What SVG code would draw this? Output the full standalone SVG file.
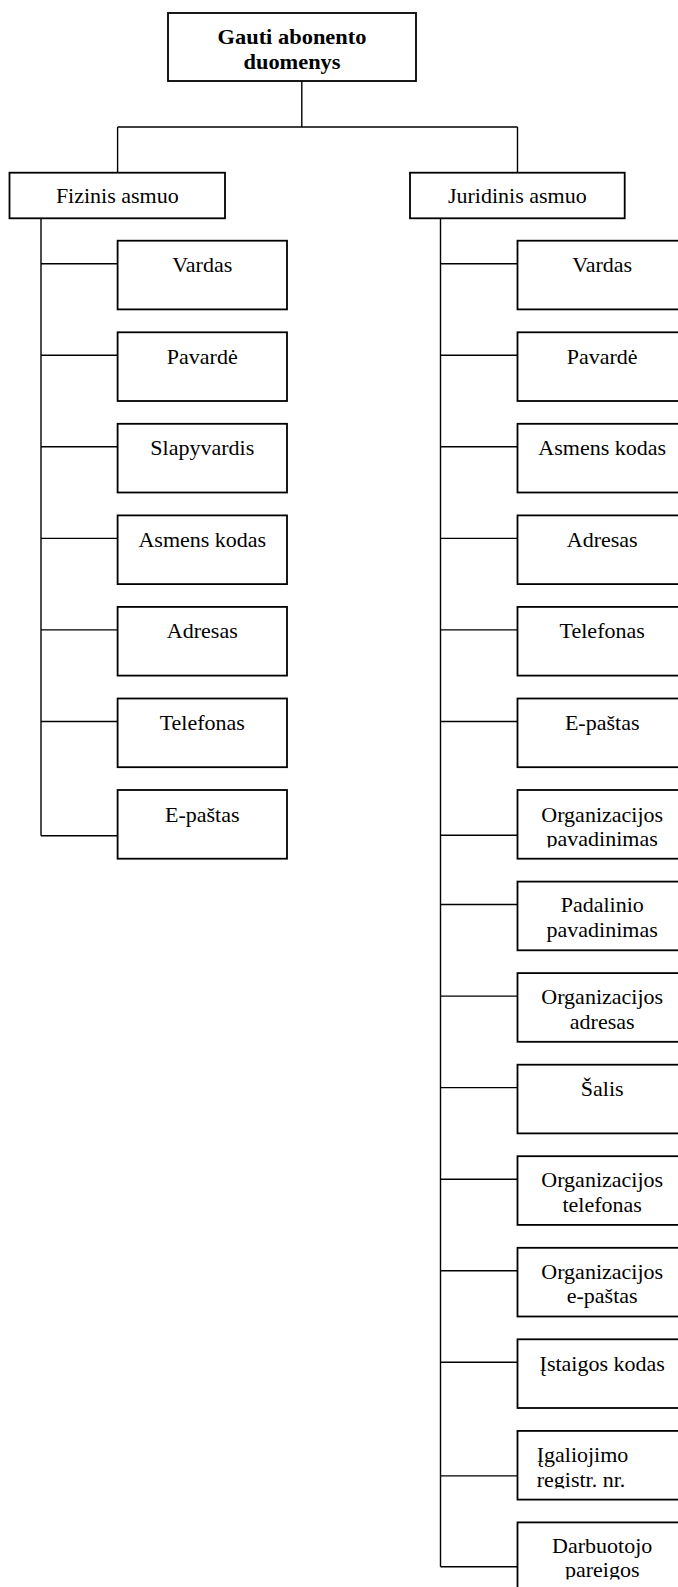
<svg xmlns="http://www.w3.org/2000/svg" width="678" height="1587" viewBox="0 0 678 1587">
  <style>
    .box { fill: #ffffff; stroke: #000000; stroke-width: 1.8; }
    .wire { fill: none; stroke: #000000; stroke-width: 1.4; }
    text { font-family: "Liberation Serif", "Times New Roman", serif; font-size: 22px; fill: #000000; }
    .c { text-anchor: middle; }
    .b { font-weight: bold; }
  </style>
  <defs>
    <clipPath id="clip-r6"><rect x="517.5" y="790" width="170" height="57.5"/></clipPath>
    <clipPath id="clip-r13"><rect x="517.5" y="1430.9" width="170" height="57.5"/></clipPath>
    <clipPath id="clip-r14"><rect x="517.5" y="1522.4" width="170" height="57"/></clipPath>
  </defs>
  <rect width="678" height="1587" fill="#ffffff"/>

  <!-- connectors -->
  <g id="connectors" class="wire">
    <path d="M301.8,81 V127 M117.6,127 H517.5 M117.6,127 V172.7 M517.5,127 V172.7"/>
    <!-- left trunk -->
    <path d="M41,218.3 V835.7"/>
    <path d="M41,263.7 H117.6 M41,355.2 H117.6 M41,446.8 H117.6 M41,538.4 H117.6 M41,629.9 H117.6 M41,721.5 H117.6 M41,835.7 H117.6"/>
    <!-- right trunk -->
    <path d="M440.5,218.3 V1566.7"/>
    <path d="M440.5,263.7 H517.5 M440.5,355.2 H517.5 M440.5,446.8 H517.5 M440.5,538.4 H517.5 M440.5,629.9 H517.5 M440.5,721.5 H517.5 M440.5,835.3 H517.5 M440.5,904.5 H517.5 M440.5,996.1 H517.5 M440.5,1087.6 H517.5 M440.5,1179.2 H517.5 M440.5,1270.8 H517.5 M440.5,1362.3 H517.5 M440.5,1475.9 H517.5 M440.5,1566.7 H517.5"/>
  </g>

  <!-- root -->
  <g id="root">
    <rect class="box" x="168" y="13" width="248" height="68"/>
    <text class="c b" x="292" y="44.3" textLength="149" lengthAdjust="spacingAndGlyphs">Gauti abonento</text>
    <text class="c b" x="292" y="69.3" textLength="97" lengthAdjust="spacingAndGlyphs">duomenys</text>
  </g>

  <!-- branch heads -->
  <g id="fizinis">
    <rect class="box" x="9.5" y="172.7" width="215.5" height="45.6"/>
    <text class="c" x="117.3" y="202.7">Fizinis asmuo</text>
  </g>
  <g id="juridinis">
    <rect class="box" x="410" y="172.7" width="214.7" height="45.6"/>
    <text class="c" x="517.3" y="202.7">Juridinis asmuo</text>
  </g>

  <!-- Fizinis asmuo fields -->
  <g id="f-vardas"><rect class="box" x="117.6" y="240.7" width="169.4" height="68.7"/><text class="c" x="202.3" y="272.2">Vardas</text></g>
  <g id="f-pavarde"><rect class="box" x="117.6" y="332.3" width="169.4" height="68.7"/><text class="c" x="202.3" y="363.8">Pavardė</text></g>
  <g id="f-slapyvardis"><rect class="box" x="117.6" y="423.8" width="169.4" height="68.7"/><text class="c" x="202.3" y="455.3">Slapyvardis</text></g>
  <g id="f-asmens-kodas"><rect class="box" x="117.6" y="515.4" width="169.4" height="68.7"/><text class="c" x="202.3" y="546.9">Asmens kodas</text></g>
  <g id="f-adresas"><rect class="box" x="117.6" y="606.9" width="169.4" height="68.7"/><text class="c" x="202.3" y="638.4">Adresas</text></g>
  <g id="f-telefonas"><rect class="box" x="117.6" y="698.5" width="169.4" height="68.7"/><text class="c" x="202.3" y="730">Telefonas</text></g>
  <g id="f-epastas"><rect class="box" x="117.6" y="790" width="169.4" height="68.7"/><text class="c" x="202.3" y="821.5">E-paštas</text></g>

  <!-- Juridinis asmuo fields -->
  <g id="j-vardas"><rect class="box" x="517.5" y="240.7" width="169.4" height="68.7"/><text class="c" x="602.2" y="272.2">Vardas</text></g>
  <g id="j-pavarde"><rect class="box" x="517.5" y="332.3" width="169.4" height="68.7"/><text class="c" x="602.2" y="363.8">Pavardė</text></g>
  <g id="j-asmens-kodas"><rect class="box" x="517.5" y="423.8" width="169.4" height="68.7"/><text class="c" x="602.2" y="455.3">Asmens kodas</text></g>
  <g id="j-adresas"><rect class="box" x="517.5" y="515.4" width="169.4" height="68.7"/><text class="c" x="602.2" y="546.9">Adresas</text></g>
  <g id="j-telefonas"><rect class="box" x="517.5" y="606.9" width="169.4" height="68.7"/><text class="c" x="602.2" y="638.4">Telefonas</text></g>
  <g id="j-epastas"><rect class="box" x="517.5" y="698.5" width="169.4" height="68.7"/><text class="c" x="602.2" y="730">E-paštas</text></g>
  <g id="j-org-pavadinimas"><rect class="box" x="517.5" y="790" width="169.4" height="68.7"/>
    <g clip-path="url(#clip-r6)"><text class="c" x="602.2" y="821.5">Organizacijos</text><text class="c" x="602.2" y="846">pavadinimas</text></g></g>
  <g id="j-padalinio-pavadinimas"><rect class="box" x="517.5" y="881.6" width="169.4" height="68.7"/>
    <text class="c" x="602.2" y="912">Padalinio</text><text class="c" x="602.2" y="936.5">pavadinimas</text></g>
  <g id="j-org-adresas"><rect class="box" x="517.5" y="973.1" width="169.4" height="68.7"/>
    <text class="c" x="602.2" y="1004">Organizacijos</text><text class="c" x="602.2" y="1028.5">adresas</text></g>
  <g id="j-salis"><rect class="box" x="517.5" y="1064.7" width="169.4" height="68.7"/><text class="c" x="602.2" y="1096.2">Šalis</text></g>
  <g id="j-org-telefonas"><rect class="box" x="517.5" y="1156.2" width="169.4" height="68.7"/>
    <text class="c" x="602.2" y="1187">Organizacijos</text><text class="c" x="602.2" y="1211.5">telefonas</text></g>
  <g id="j-org-epastas"><rect class="box" x="517.5" y="1247.8" width="169.4" height="68.7"/>
    <text class="c" x="602.2" y="1278.5">Organizacijos</text><text class="c" x="602.2" y="1303">e-paštas</text></g>
  <g id="j-istaigos-kodas"><rect class="box" x="517.5" y="1339.3" width="169.4" height="68.7"/><text class="c" x="602.2" y="1370.8">Įstaigos kodas</text></g>
  <g id="j-igaliojimo"><rect class="box" x="517.5" y="1430.9" width="169.4" height="68.7"/>
    <g clip-path="url(#clip-r13)"><text x="536.7" y="1461.9">Įgaliojimo</text><text x="536.7" y="1486.6">registr. nr.</text></g></g>
  <g id="j-darbuotojo-pareigos"><rect class="box" x="517.5" y="1522.4" width="169.4" height="68.7"/>
    <g clip-path="url(#clip-r14)"><text class="c" x="602.2" y="1552.5">Darbuotojo</text><text class="c" x="602.2" y="1576.5">pareigos</text></g></g>
</svg>
